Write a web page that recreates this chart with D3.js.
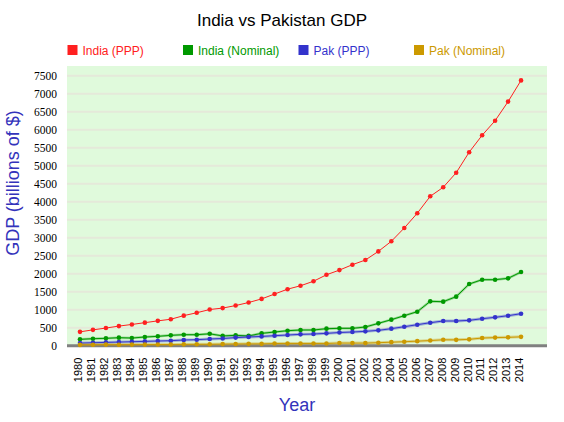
<!DOCTYPE html>
<html><head><meta charset="utf-8">
<script src="https://cdn.jsdelivr.net/npm/d3@7"></script>
<style>body{margin:0;background:#fff}svg{display:block}</style>
</head><body><svg id="c" width="564" height="422"></svg>
<script>
const years = d3.range(1980, 2015);
const indiaPPP = [385,440,490,545,590,640,690,735,835,915,1005,1045,1115,1200,1300,1435,1570,1665,1790,1970,2100,2250,2380,2620,2900,3270,3680,4150,4400,4805,5375,5845,6250,6780,7370];
const indiaNominal = [176,195,204,223,213,241,260,288,306,306,330,272,288,272,343,380,417,436,436,473,482,482,519,621,723,834,945,1232,1223,1362,1713,1834,1834,1871,2047];
const pakPPP = [72,82,92,101,110,120,130,139,158,167,186,200,225,241,258,278,297,315,325,343,366,380,399,426,473,528,584,639,686,686,704,750,788,834,889];
const pakNominal = [24,27,30,28,31,31,32,33,38,40,40,45,49,51,52,60,63,62,62,62,74,72,72,83,98,110,127,143,164,162,177,213,225,232,246];
const seriesNames = ["India (PPP)","India (Nominal)","Pak (PPP)","Pak (Nominal)"];
const seriesColors = ["#ff2020","#009900","#3333cc","#cc9900"];
const yTicks = d3.range(0, 7501, 500);

const svg = d3.select("#c");
const L = 67, R = 547, T = 66, B = 345.7;
const x = d3.scaleLinear().domain([1979, 2016]).range([L, R]);
const y = d3.scaleLinear().domain([0, 7500]).range([B, 75.7]);

svg.append("rect").attr("x", L).attr("y", T).attr("width", R - L).attr("height", B - T).attr("fill", "#e0fadc");
svg.append("g").selectAll("line").data(yTicks.filter(d => d > 0)).join("line")
  .attr("x1", L).attr("x2", R).attr("y1", d => y(d)).attr("y2", d => y(d))
  .attr("stroke", "#e5e9da").attr("stroke-width", 2);

// y axis labels
const ya = svg.append("g").attr("transform", `translate(${L},0)`)
  .call(d3.axisLeft(y).tickValues(yTicks).tickSize(0).tickPadding(10).tickFormat(d3.format("d")));
ya.select(".domain").remove();
ya.attr("font-family", "'Liberation Serif','Times New Roman',serif");
ya.selectAll("text").style("font-family", "'Liberation Serif','Times New Roman',serif").attr("font-size", 11.5).attr("fill", "#000");

// x axis
const xa = svg.append("g").attr("transform", `translate(0,${B})`)
  .call(d3.axisBottom(x).tickValues(years).tickSize(0).tickFormat(d3.format("d")));
xa.select(".domain").remove();
xa.selectAll("text").attr("font-family", "'Liberation Sans',Arial,sans-serif").attr("font-size", 11).attr("fill", "#000")
  .attr("text-anchor", "end").attr("transform", "rotate(-90)").attr("x", -12).attr("y", -2).attr("dy", "0.35em");
svg.append("line").attr("x1", L).attr("x2", R).attr("y1", B).attr("y2", B).attr("stroke", "#808080").attr("stroke-width", 3);

const data = [indiaPPP, indiaNominal, pakPPP, pakNominal];
const line = d3.line().x((d, i) => x(years[i])).y(d => y(d));
const haloW = [0, 2.5, 3, 3];
data.forEach((s, k) => {
  const g = svg.append("g");
  if (haloW[k]) g.append("path").attr("d", line(s)).attr("fill", "none").attr("stroke", seriesColors[k]).attr("stroke-opacity", 0.35).attr("stroke-width", haloW[k]);
  g.append("path").attr("d", line(s)).attr("fill", "none").attr("stroke", seriesColors[k]).attr("stroke-width", 1);
  g.selectAll("circle").data(s).join("circle").attr("cx", (d, i) => x(years[i])).attr("cy", d => y(d)).attr("r", 2.3).attr("fill", seriesColors[k]);
});

// title
svg.append("text").attr("x", 282).attr("y", 26).attr("text-anchor", "middle")
  .attr("font-family", "'Liberation Sans',Arial,sans-serif").attr("font-size", 17).attr("fill", "#000").text("India vs Pakistan GDP");

// legend
const legX = [67.5, 183, 298.5, 414];
seriesNames.forEach((n, k) => {
  svg.append("rect").attr("x", legX[k]).attr("y", 45).attr("width", 10).attr("height", 10).attr("fill", seriesColors[k]);
  svg.append("text").attr("x", legX[k] + 15).attr("y", 54.5).attr("font-family", "'Liberation Sans',Arial,sans-serif")
    .attr("font-size", 12).attr("fill", seriesColors[k]).text(n);
});

// axis titles
svg.append("text").attr("transform", "translate(19,183) rotate(-90)").attr("text-anchor", "middle")
  .attr("font-family", "'Liberation Sans',Arial,sans-serif").attr("font-size", 18).attr("fill", "#3333bb").text("GDP (billions of $)");
svg.append("text").attr("x", 297).attr("y", 411).attr("text-anchor", "middle")
  .attr("font-family", "'Liberation Sans',Arial,sans-serif").attr("font-size", 18).attr("fill", "#3333bb").text("Year");
</script></body></html>
